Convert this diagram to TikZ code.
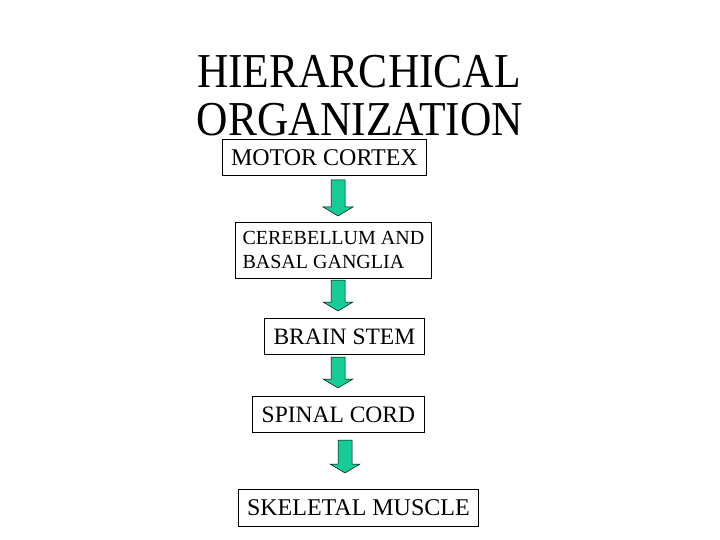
\documentclass[tikz,border=0pt]{standalone}
\usepackage{fontspec}
\setmainfont{Liberation Serif}
\definecolor{freccia}{RGB}{22,204,150}
\tikzset{
  box/.style={draw,line width=0.8pt,rectangle,inner sep=0pt,anchor=north west},
  titolo/.style={anchor=base,inner sep=0pt,font=\fontsize{43.5}{48}\selectfont},
  pics/giu/.style={code={
    \filldraw[fill=freccia,draw=black,line width=0.5pt]
      (-7,0) -- (-7,#1-9) -- (-15,#1-9) -- (0,#1) -- (15,#1-9) -- (7,#1-9) -- (7,0) -- cycle;}}
}
\begin{document}
\begin{tikzpicture}[x=1pt,y=-1pt]
        \useasboundingbox (0,0) rectangle (720,540);
        % titolo
        \node[titolo] (tit1) at (359,88) {\scalebox{1}[1.12]{HIERARCHICAL}};
        \node[titolo] (tit2) at (360,136) {\scalebox{1}[1.12]{ORGANIZATION}};
        % livelli
        \node[box,minimum width=204pt,minimum height=36pt,font=\fontsize{24}{26}\selectfont] (motor) at (222,139) {MOTOR CORTEX};
        \node[box,minimum width=196pt,minimum height=56pt,align=left,font=\fontsize{20}{24}\selectfont] (cereb) at (235,222) {CEREBELLUM AND\\BASAL GANGLIA};
        \node[box,minimum width=160pt,minimum height=36pt,font=\fontsize{23.5}{26}\selectfont] (brain) at (264,318) {BRAIN STEM};
        \node[box,minimum width=172pt,minimum height=36pt,font=\fontsize{23.5}{26}\selectfont] (spinal) at (252,396) {SPINAL CORD};
        \node[box,minimum width=240pt,minimum height=37pt,font=\fontsize{24}{26}\selectfont] (muscle) at (238,489) {SKELETAL MUSCLE};
        % frecce
        \pic at (338,180) {giu=36};
        \pic at (338,280) {giu=31};
        \pic at (338,357) {giu=31};
        \pic at (345,440) {giu=33};
    \end{tikzpicture}
\end{document}
